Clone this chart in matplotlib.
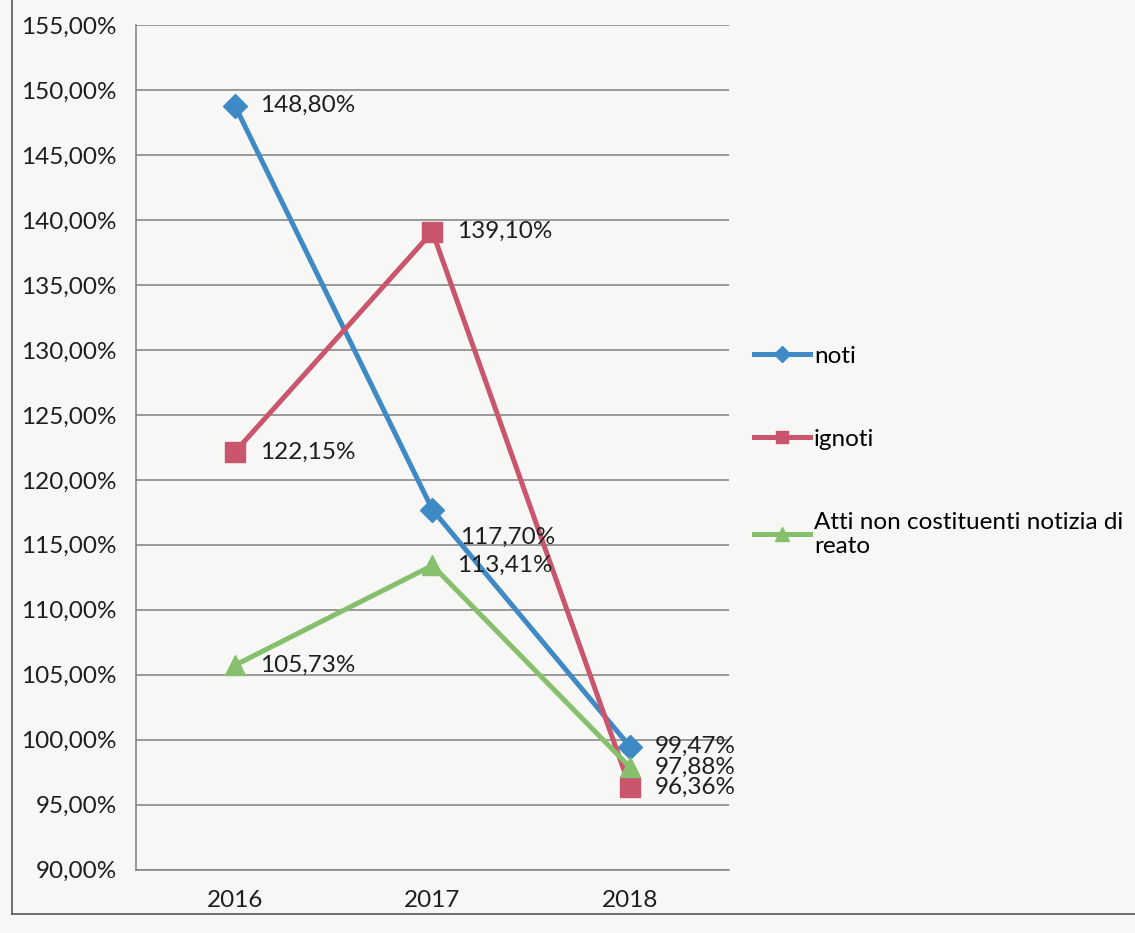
import matplotlib.pyplot as plt
from matplotlib.lines import Line2D
from matplotlib.ticker import FuncFormatter, MultipleLocator

years = ["2016", "2017", "2018"]
noti = [148.80, 117.70, 99.47]
ignoti = [122.15, 139.10, 96.36]
atti = [105.73, 113.41, 97.88]

series_names = ["noti", "ignoti", "Atti non costituenti notizia di\nreato"]

plt.rcParams["font.family"] = ["Lato", "DejaVu Sans"]

BLUE = "#3f89c5"
RED = "#c9566c"
GREEN = "#86c06c"
GRID = "#808080"
PAPER = "#f7f7f5"
INK = "#1e1e1e"
FS = 17.5


def pct(v, _pos=None):
    return f"{v:.2f}%".replace(".", ",")


fig = plt.figure(figsize=(11.35, 9.33), dpi=100, facecolor=PAPER)
ax = fig.add_axes([0.12, 0.068, 0.522, 0.905])
ax.set_facecolor(PAPER)

x = range(len(years))
styles = [
    (noti, BLUE, "D", 12),
    (ignoti, RED, "s", 14),
    (atti, GREEN, "^", 15),
]
handles = []
for (vals, color, marker, ms), name in zip(styles, series_names):
    (ln,) = ax.plot(x, vals, color=color, lw=3.6, marker=marker, ms=ms,
                    mec=color, mfc=color, label=name, zorder=3)
    handles.append(ln)

# data labels to the right of each point; 117,70% sits a bit lower
label_offsets = {(0, 1): (20, -20)}
for si, (vals, *_rest) in enumerate(styles):
    for xi, v in enumerate(vals):
        dx, dy = label_offsets.get((si, xi), (18, 0))
        ax.annotate(pct(v), (xi, v), xytext=(dx, dy), textcoords="offset points",
                    ha="left", va="center", fontsize=FS, color=INK, zorder=4)

ax.set_xlim(-0.5, 2.5)
ax.set_ylim(90, 155)
ax.yaxis.set_major_locator(MultipleLocator(5))
ax.yaxis.set_major_formatter(FuncFormatter(pct))
ax.set_xticks(list(x))
ax.set_xticklabels(years)
ax.tick_params(axis="both", length=0, labelsize=FS, colors=INK)
ax.tick_params(axis="x", pad=15)
ax.tick_params(axis="y", pad=14)

ax.grid(axis="y", color=GRID, lw=1.1)
ax.set_axisbelow(True)
for side in ["top", "right"]:
    ax.spines[side].set_visible(False)
for side in ["left", "bottom"]:
    ax.spines[side].set_color(GRID)
    ax.spines[side].set_linewidth(1.1)

fig.legend(handles=handles, loc="upper left", bbox_to_anchor=(0.656, 0.64),
           frameon=False, fontsize=FS, handlelength=2.3, handletextpad=0.15,
           labelspacing=2.55, markerscale=0.65, borderaxespad=0)

# outer chart border
fig.add_artist(Line2D([0.011, 0.011], [0.02, 1.0], color="#555555", lw=1.2))
fig.add_artist(Line2D([0.011, 1.0], [0.02, 0.02], color="#555555", lw=1.2))

fig.savefig("out.png", dpi=100, facecolor=PAPER)
